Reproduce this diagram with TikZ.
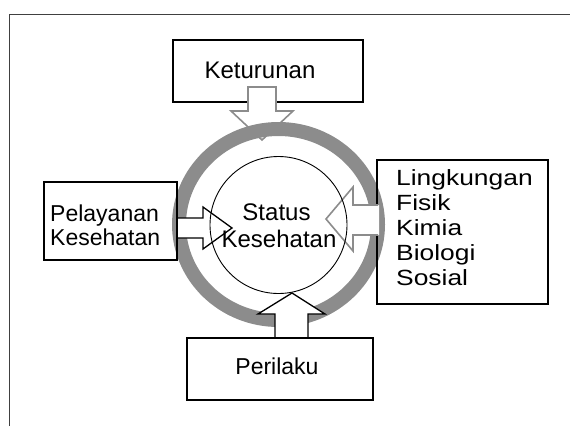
\documentclass[tikz,border=0pt]{standalone}
\usepackage{fontspec}
\setmainfont{Liberation Sans}
\newfontfamily\widefont[FakeStretch=1.2]{Liberation Sans}
\usetikzlibrary{shapes.geometric}
\definecolor{ringgray}{RGB}{140,140,140}
\definecolor{framegray}{RGB}{64,64,64}
\begin{document}
\begin{tikzpicture}[x=1pt,y=-1pt,
  box/.style={draw=black, line width=1.8pt, inner sep=0pt, outer sep=0pt},
  lbl/.style={inner sep=0pt, font=\fontsize{24}{26}\selectfont},
  lbls/.style={inner sep=0pt, font=\fontsize{23}{25}\selectfont},
  wlbl/.style={inner sep=0pt, anchor=base west, font=\widefont\fontsize{22}{25}\selectfont},
  grayarrow/.style={draw=ringgray, line width=1.6pt, line join=miter, fill=white},
  blackarrow/.style={draw=black, line width=1.3pt, line join=miter, fill=white}]
\useasboundingbox (0,0) rectangle (570,426);
% frame
\coordinate (fTL) at (9,14);
\coordinate (fTR) at (570,14);
\coordinate (fBL) at (9,426);
\draw[framegray, line width=1pt] (fBL) -- (fTL) -- (fTR);
% Keturunan box and its arrow (under ring)
\node[box, minimum width=190pt, minimum height=62pt] (ket) at (268,71) {};
\draw[grayarrow] (248,87) -- (276,87) -- (276,111) -- (293,111) -- (262,140) -- (231,111) -- (248,111) -- cycle;
% ring
\node[ellipse, draw=ringgray, line width=14pt, minimum width=199pt, minimum height=191pt, inner sep=0pt] (ring) at (278.5,224.5) {};
% boxes (no fill)
\node[box, minimum width=171pt, minimum height=144pt] (lin) at (462.5,232) {};
% Lingkungan arrow
\fill[white] (379,205) -- (353,205) -- (353,187) -- (326,219) -- (353,251) -- (353,235) -- (379,235) -- cycle;
\draw[draw=ringgray, line width=1.6pt, line join=miter] (378,205) -- (353,205) -- (353,187) -- (326,219) -- (353,251) -- (353,235) -- (378,235);
% Pelayanan arrow
\draw[blackarrow] (177,218) -- (203,218) -- (203,207) -- (232,228) -- (203,249) -- (203,238) -- (177,238) -- cycle;
% Perilaku arrow
\draw[blackarrow] (275,338) -- (275,314) -- (258,314) -- (292,293) -- (325,314) -- (308,314) -- (308,338) -- cycle;
\node[box, minimum width=133pt, minimum height=78pt] (pel) at (110.5,221) {};
\node[box, minimum width=186pt, minimum height=62pt] (per) at (280,369) {};
% inner circle
\node[circle, draw=black, line width=0.9pt, minimum size=137pt, inner sep=0pt] (stat) at (278.5,225) {};
% texts
\node[lbl, anchor=base] (tKet) at (260,78) {Keturunan};
\node[lbl, anchor=base] (tSt1) at (276.5,220) {Status};
\node[lbl, anchor=base] (tSt2) at (279,247) {Kesehatan};
\node[lbls, anchor=base west] (tPel1) at (50,221) {Pelayanan};
\node[lbls, anchor=base west] (tPel2) at (50,245) {Kesehatan};
\node[lbls, anchor=base] (tPer) at (277,374) {Perilaku};
\node[wlbl] (tL1) at (396,185) {Lingkungan};
\node[wlbl] (tL2) at (396,210) {Fisik};
\node[wlbl] (tL3) at (396,235) {Kimia};
\node[wlbl] (tL4) at (396,260) {Biologi};
\node[wlbl] (tL5) at (396,285) {Sosial};
\end{tikzpicture}
\end{document}
